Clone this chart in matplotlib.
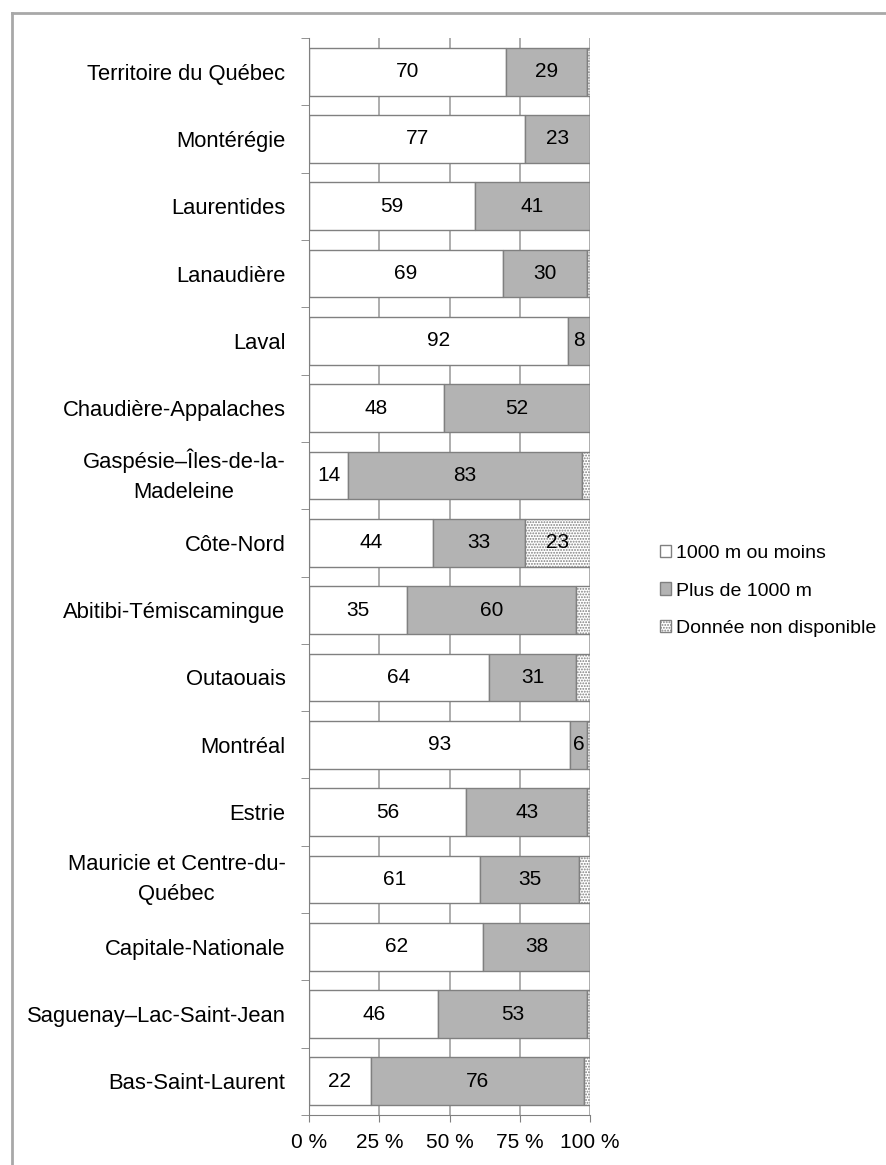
import matplotlib
matplotlib.use("Agg")
import matplotlib.pyplot as plt
from matplotlib.lines import Line2D
from matplotlib.patches import Patch

plt.rcParams['font.family'] = ['Liberation Sans', 'DejaVu Sans']
plt.rcParams['hatch.color'] = '#b8b8b8'
plt.rcParams['hatch.linewidth'] = 0.9

regions = ["Territoire du Québec", "Montérégie", "Laurentides", "Lanaudière", "Laval",
           "Chaudière-Appalaches", "Gaspésie–Îles-de-la-\nMadeleine", "Côte-Nord",
           "Abitibi-Témiscamingue", "Outaouais", "Montréal", "Estrie",
           "Mauricie et Centre-du-\nQuébec", "Capitale-Nationale",
           "Saguenay–Lac-Saint-Jean", "Bas-Saint-Laurent"]
moins_1000 = [70, 77, 59, 69, 92, 48, 14, 44, 35, 64, 93, 56, 61, 62, 46, 22]
plus_1000 = [29, 23, 41, 30, 8, 52, 83, 33, 60, 31, 6, 43, 35, 38, 53, 76]
non_dispo = [1, 0.6, 0.6, 1, 0.6, 0.6, 3, 23, 5, 5, 1, 1, 4, 0.6, 1, 2]
xticks = [0, 25, 50, 75, 100]
xticklabels = ["0 %", "25 %", "50 %", "75 %", "100 %"]

fs = 15

fig = plt.figure(figsize=(8.86, 11.65), dpi=100)
ax = fig.add_axes([309 / 886, 1 - 1115 / 1165, 281 / 886, (1115 - 38) / 1165])

edge = '#808080'
y = list(range(len(regions)))
h = 0.71
ax.barh(y, moins_1000, height=h, color='white', edgecolor=edge, linewidth=1, zorder=2)
left2 = moins_1000
ax.barh(y, plus_1000, left=left2, height=h, color='#b3b3b3', edgecolor=edge, linewidth=1, zorder=2)
left3 = [a + b for a, b in zip(moins_1000, plus_1000)]
ax.barh(y, non_dispo, left=left3, height=h, color='white', edgecolor=edge, linewidth=1,
        hatch='......', zorder=2)

for i in y:
    ax.text(moins_1000[i] / 2, i, str(moins_1000[i]), ha='center', va='center', fontsize=fs, zorder=3)
    ax.text(moins_1000[i] + plus_1000[i] / 2, i, str(plus_1000[i]), ha='center', va='center',
            fontsize=fs, zorder=3)
    if non_dispo[i] > 10:
        ax.text(left3[i] + non_dispo[i] / 2, i, str(int(non_dispo[i])), ha='center', va='center',
                fontsize=fs, zorder=3)

ax.set_xlim(0, 100)
ax.set_ylim(len(regions) - 0.5, -0.5)
ax.set_xticks(xticks)
ax.set_xticklabels(xticklabels, fontsize=fs)
ax.set_yticks(y)
ax.set_yticklabels(regions, fontsize=15.8, multialignment='center', linespacing=1.55)
# les etiquettes sur deux lignes sont centrees sur la barre
for lab in ax.get_yticklabels():
    if '\n' in lab.get_text():
        lab.set_verticalalignment('center')
ax.set_yticks([i - 0.5 for i in range(len(regions) + 1)], minor=True)
ax.tick_params(axis='y', which='major', length=0, pad=17)
ax.tick_params(axis='y', which='minor', length=6, color=edge)
ax.tick_params(axis='x', length=5, color=edge, pad=8)
ax.grid(axis='x', color='#a0a0a0', linewidth=1.2, zorder=0)
ax.set_axisbelow(True)
for s in ['top', 'right']:
    ax.spines[s].set_visible(False)
for s in ['left', 'bottom']:
    ax.spines[s].set_color(edge)

handles = [Patch(facecolor='white', edgecolor=edge, label='1000 m ou moins'),
           Patch(facecolor='#b3b3b3', edgecolor=edge, label='Plus de 1000 m'),
           Patch(facecolor='white', edgecolor=edge, hatch='......', label='Donnée non disponible')]
fig.legend(handles=handles, loc='center left', bbox_to_anchor=(650 / 886, 1 - 591 / 1165),
           frameon=False, fontsize=14, handlelength=0.6, handleheight=0.6,
           handletextpad=0.25, labelspacing=1.05, borderpad=0)

# cadre gris en haut et a gauche
fig.add_artist(Line2D([12 / 886, 1], [1 - 13 / 1165] * 2, color='#a8a8a8', lw=2))
fig.add_artist(Line2D([12 / 886] * 2, [0, 1 - 13 / 1165], color='#a8a8a8', lw=2))

fig.savefig("out.png", dpi=100)
